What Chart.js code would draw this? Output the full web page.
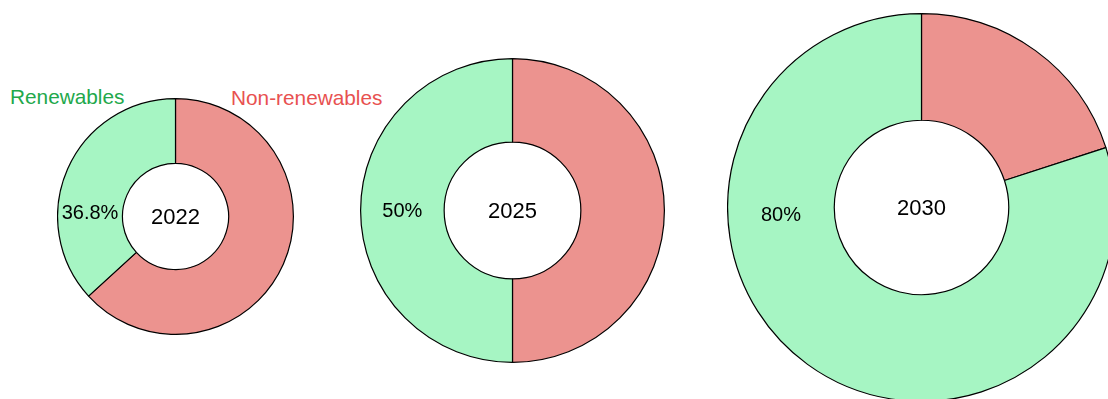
<!DOCTYPE html>
<html>
<head>
<meta charset="utf-8">
<script src="https://cdn.jsdelivr.net/npm/chart.js@4.4.1/dist/chart.umd.min.js"></script>
<style>
  html, body { margin: 0; padding: 0; background: #fff; }
  body { width: 1108px; height: 399px; position: relative; overflow: hidden;
         font-family: "Liberation Sans", Arial, sans-serif; }
  canvas { position: absolute; }
  .lg { position: absolute; font-size: 20.8px; line-height: 20px; white-space: nowrap; }
</style>
</head>
<body>
<div class="lg" id="lg-ren" style="left:10px; top:87px; color:#22a84b;"></div>
<div class="lg" id="lg-non" style="left:231px; top:88px; color:#e85150;"></div>
<canvas id="c2022" style="left:57px; top:98px;"></canvas>
<canvas id="c2025" style="left:360px; top:58px;"></canvas>
<canvas id="c2030" style="left:727px; top:13px;"></canvas>
<script>
// Share of electricity generation, renewables vs non-renewables, per year.
const years = ['2022', '2025', '2030'];
const seriesNames = ['Non-renewables', 'Renewables'];
const nonRenewables = [63.2, 50, 20];
const renewables = [36.8, 50, 80];

const GREEN = '#a6f5c3';
const RED = '#ec938f';
const FONT = '"Liberation Sans", Arial, sans-serif';

// canvas sizes so the rings grow year over year (2030 runs off the page)
const sizes = [237, 305, 389];
// nudge of the % label below/above the ring centre (px)
const pctShift = [-3, 1, 8];

document.getElementById('lg-ren').textContent = seriesNames[1];
document.getElementById('lg-non').textContent = seriesNames[0];

// year in the hole, renewables share on the left side of the ring
const ringText = {
  id: 'ringText',
  afterDraw(chart, args, opts) {
    const arc = chart.getDatasetMeta(0).data[1];
    if (!arc) return;
    const { x, y, innerRadius, outerRadius } = arc;
    const ctx = chart.ctx;
    ctx.save();
    ctx.fillStyle = '#000';
    ctx.textAlign = 'center';
    ctx.textBaseline = 'middle';
    ctx.font = '22px ' + FONT;
    ctx.fillText(opts.year, x, y + 1);
    ctx.font = '20px ' + FONT;
    const mid = (innerRadius + outerRadius) / 2;
    ctx.fillText(opts.pct + '%', x - mid, y + opts.dy);
    ctx.restore();
  },
};

years.forEach((yr, i) => {
  const canvas = document.getElementById('c' + yr);
  canvas.width = sizes[i];
  canvas.height = sizes[i];
  new Chart(canvas, {
    type: 'doughnut',
    data: {
      labels: seriesNames,
      datasets: [{
        data: [nonRenewables[i], renewables[i]],
        backgroundColor: [RED, GREEN],
        borderColor: '#000',
        borderWidth: 1.2,
      }],
    },
    options: {
      responsive: false,
      animation: false,
      events: [],
      cutout: '45%',
      layout: { padding: 0 },
      plugins: {
        legend: { display: false },
        tooltip: { enabled: false },
        ringText: { year: yr, pct: renewables[i], dy: pctShift[i] },
      },
    },
    plugins: [ringText],
  });
});
</script>
</body>
</html>
